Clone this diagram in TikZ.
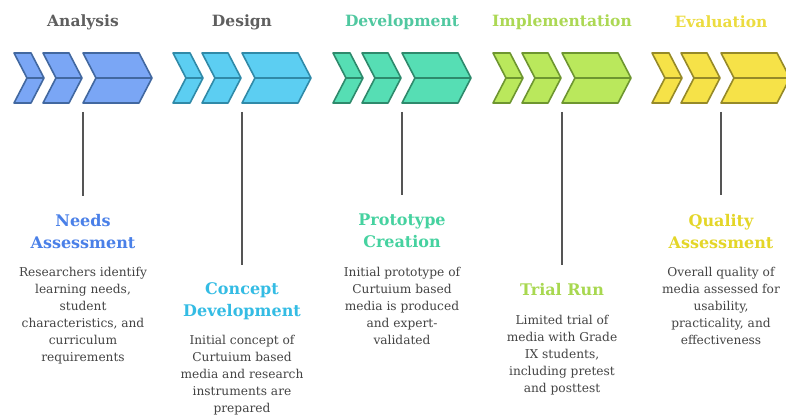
\documentclass[tikz,border=0pt]{standalone}
\usepackage{fontspec}
\setmainfont{DejaVu Serif}
% chevron fills and outlines per phase
\definecolor{anaFill}{RGB}{122,166,245}
\definecolor{anaLine}{RGB}{66,104,160}
\definecolor{desFill}{RGB}{92,206,242}
\definecolor{desLine}{RGB}{48,138,168}
\definecolor{devFill}{RGB}{86,222,180}
\definecolor{devLine}{RGB}{46,138,108}
\definecolor{impFill}{RGB}{186,232,92}
\definecolor{impLine}{RGB}{110,150,48}
\definecolor{evaFill}{RGB}{246,226,72}
\definecolor{evaLine}{RGB}{150,138,40}
% text colours
\definecolor{headGray}{RGB}{95,95,95}
\definecolor{descGray}{RGB}{68,68,68}
\definecolor{stemGray}{RGB}{85,85,85}
\definecolor{needsBlue}{RGB}{74,128,232}
\definecolor{conceptCyan}{RGB}{52,188,228}
\definecolor{protoTeal}{RGB}{70,210,160}
\definecolor{trialGreen}{RGB}{168,216,80}
\definecolor{qualYellow}{RGB}{228,214,40}
\definecolor{devHead}{RGB}{80,200,160}
\definecolor{impHead}{RGB}{172,216,84}
\definecolor{evaHead}{RGB}{236,220,64}

% one chevron: left edge, top width, fill, outline
\newcommand\chevpiece[4]{%
  \filldraw[fill=#3, draw=#4, line width=1.6pt, line join=round]
    (#1,53) -- ++(#2,0) -- ++(13,25) -- ++(-13,25) -- ++(-#2,0) -- ++(13,-25) -- cycle;
  \draw[#4, line width=1.6pt] (#1+13,78) -- ++(#2,0);
}
% a group of three chevrons starting at x0
\newcommand\chevgroup[3]{%
  \begin{scope}[shift={(#1,0)}]
    \chevpiece{0}{17}{#2}{#3}
    \chevpiece{29}{26}{#2}{#3}
    \chevpiece{69}{56}{#2}{#3}
  \end{scope}
}

\begin{document}
\begin{tikzpicture}[x=1pt,y=-1pt,
  heading/.style={font=\bfseries\fontsize{15.5}{18}\selectfont, anchor=center, inner sep=0pt},
  stagetitle/.style={font=\bfseries\fontsize{16}{22}\selectfont, align=center, anchor=north, inner sep=0pt},
  desc/.style={font=\fontsize{12.2}{17}\selectfont, text=descGray, align=center, anchor=north, inner sep=0pt},
  stem/.style={draw=stemGray, line width=2.5pt},
]
\useasboundingbox (0,0) rectangle (786,419);
\clip (0,0) rectangle (786,419);
\fill[white] (0,0) rectangle (786,419);

% phase headings
\node[heading, text=headGray] (hAna) at (83,22) {Analysis};
\node[heading, text=headGray] (hDes) at (242,22) {Design};
\node[heading, text=devHead] (hDev) at (402,22) {Development};
\node[heading, text=impHead] (hImp) at (562,22) {Implementation};
\node[heading, text=evaHead] (hEva) at (721,22) {Evaluation};

% chevron groups
\chevgroup{14}{anaFill}{anaLine}
\chevgroup{173}{desFill}{desLine}
\chevgroup{333}{devFill}{devLine}
\chevgroup{493}{impFill}{impLine}
\chevgroup{652}{evaFill}{evaLine}

% stem tops under each chevron group
\coordinate (sAna) at (83,112);
\coordinate (sDes) at (242,112);
\coordinate (sDev) at (402,112);
\coordinate (sImp) at (562,112);
\coordinate (sEva) at (721,112);

% stage titles
\node[stagetitle, text=needsBlue] (tNeeds) at (83,214) {Needs\\Assessment};
\node[stagetitle, text=conceptCyan] (tConcept) at (242,282) {Concept\\Development};
\node[stagetitle, text=protoTeal] (tProto) at (402,214) {Prototype\\Creation};
\node[stagetitle, text=trialGreen] (tTrial) at (562,283) {Trial Run};
\node[stagetitle, text=qualYellow] (tQual) at (721,214) {Quality\\Assessment};

% stems, ending a little above each title
\draw[stem] (sAna) -- ([yshift=18pt]tNeeds.north);
\draw[stem] (sDes) -- ([yshift=17pt]tConcept.north);
\draw[stem] (sDev) -- ([yshift=19pt]tProto.north);
\draw[stem] (sImp) -- ([yshift=18pt]tTrial.north);
\draw[stem] (sEva) -- ([yshift=19pt]tQual.north);

% descriptions
\node[desc] (dNeeds) at (83,267) {Researchers identify\\learning needs,\\student\\characteristics, and\\curriculum\\requirements};
\node[desc] (dConcept) at (242,335) {Initial concept of\\Curtuium based\\media and research\\instruments are\\prepared};
\node[desc] (dProto) at (402,267) {Initial prototype of\\Curtuium based\\media is produced\\and expert-\\validated};
\node[desc] (dTrial) at (562,315) {Limited trial of\\media with Grade\\IX students,\\including pretest\\and posttest};
\node[desc] (dQual) at (721,267) {Overall quality of\\media assessed for\\usability,\\practicality, and\\effectiveness};
\end{tikzpicture}
\end{document}
